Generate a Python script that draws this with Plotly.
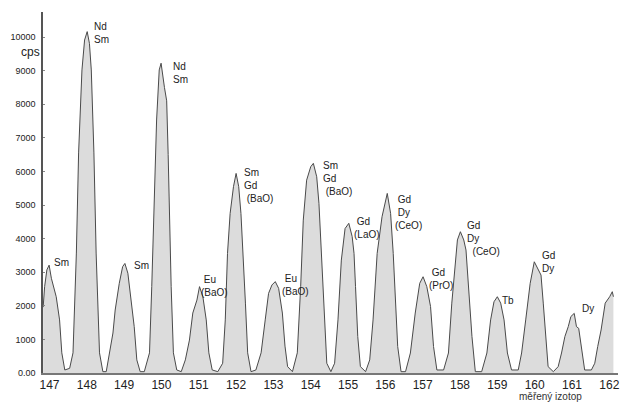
import plotly.graph_objects as go

# ---- data (mass number vs. counts per second) ----
mass = [146.83, 146.87, 146.93, 146.99, 147.05, 147.09, 147.18, 147.27, 147.33, 147.41,
        147.54, 147.63, 147.72, 147.78, 147.87, 147.94, 148.01, 148.07, 148.12, 148.19,
        148.25, 148.34, 148.43, 148.52, 148.61, 148.70, 148.76, 148.87, 148.96, 149.02,
        149.10, 149.18, 149.27, 149.34, 149.43, 149.54, 149.68, 149.74, 149.81, 149.87,
        149.94, 149.99, 150.08, 150.14, 150.18, 150.22, 150.26, 150.32, 150.41, 150.53,
        150.64, 150.75, 150.84, 150.95, 151.02, 151.11, 151.20, 151.27, 151.36, 151.51,
        151.64, 151.71, 151.77, 151.84, 151.93, 152.00, 152.07, 152.13, 152.19, 152.25,
        152.31, 152.40, 152.53, 152.67, 152.78, 152.87, 152.96, 153.05, 153.14, 153.24,
        153.31, 153.38, 153.51, 153.64, 153.73, 153.80, 153.89, 154.00, 154.07, 154.16,
        154.22, 154.28, 154.36, 154.43, 154.54, 154.64, 154.73, 154.82, 154.92, 155.02,
        155.11, 155.16, 155.20, 155.26, 155.33, 155.47, 155.58, 155.67, 155.78, 155.91,
        156.05, 156.14, 156.21, 156.27, 156.33, 156.42, 156.54, 156.67, 156.80, 156.92,
        157.01, 157.11, 157.21, 157.29, 157.38, 157.56, 157.69, 157.78, 157.87, 157.93,
        158.01, 158.10, 158.16, 158.23, 158.32, 158.41, 158.58, 158.72, 158.82, 158.91,
        159.00, 159.09, 159.18, 159.27, 159.38, 159.56, 159.65, 159.76, 159.88, 159.99,
        160.08, 160.17, 160.23, 160.29, 160.36, 160.50, 160.63, 160.72, 160.81, 160.90,
        160.97, 161.06, 161.12, 161.18, 161.25, 161.34, 161.52, 161.61, 161.69, 161.78,
        161.89, 162.01, 162.08, 162.11]
cps = [1960, 2570, 3070, 3210, 2820, 2670, 2270, 1580, 600, 90,
       140, 600, 3570, 6550, 9020, 9910, 10160, 9810, 9020, 6550,
       3570, 600, 40, 40, 600, 1190, 1875, 2670, 3165, 3260,
       2970, 2270, 1380, 390, 40, 40, 600, 2570, 5545, 7530,
       9020, 9220, 8500, 8100, 6500, 4500, 2570, 600, 90, 40,
       390, 980, 1785, 2170, 2570, 2270, 1580, 600, 90, 40,
       290, 1580, 3560, 4750, 5545, 5940, 5545, 4750, 3560, 2080,
       600, 40, 90, 600, 1580, 2370, 2620, 2720, 2520, 1785,
       800, 190, 40, 600, 2570, 4550, 5740, 6140, 6240, 5840,
       5050, 3560, 1580, 290, 40, 290, 1580, 3360, 4300, 4455,
       4060, 3560, 2570, 1085, 190, 40, 390, 1580, 3560, 4650,
       5345, 4750, 3560, 2080, 790, 40, 40, 595, 1785, 2670,
       2865, 2570, 1980, 790, 90, 90, 595, 2080, 3360, 3960,
       4205, 3960, 3660, 2570, 1085, 40, 40, 595, 1580, 2120,
       2270, 2080, 1580, 595, 90, 90, 595, 1580, 2670, 3310,
       3115, 2915, 2080, 1085, 190, 40, 190, 595, 1085, 1380,
       1680, 1775, 1380, 1330, 790, 90, 90, 290, 790, 1280,
       2080, 2270, 2420, 2270]

x_ticks = list(range(147, 163))
y_ticks = [0, 1000, 2000, 3000, 4000, 5000, 6000, 7000, 8000, 9000, 10000]
y_tick_text = ["0.00"] + [str(v) for v in y_ticks[1:]]

NB = "\u00a0"
peak_labels = ["Sm", "Nd<br>Sm", "Sm", "Nd<br>Sm", NB + "Eu<br>(BaO)",
               "Sm<br>Gd<br>" + NB + "(BaO)", NB + "Eu<br>(BaO)",
               "Sm<br>Gd<br>" + NB + "(BaO)", NB + "Gd<br>(LaO)",
               NB + "Gd<br>" + NB + "Dy<br>(CeO)", NB + "Gd<br>(PrO)",
               "Gd<br>Dy<br>" + NB + NB + "(CeO)", "Tb", "Gd<br>Dy", "Dy"]
label_mass = [147.09, 148.16, 149.23, 150.27, 151.02, 152.19, 153.21, 154.30,
              155.13, 156.23, 157.13, 158.15, 159.11, 160.18, 161.25]
label_cps = [3482, 10506, 3393, 9315, 2976, 6161, 3006, 6369,
             4702, 5357, 3185, 4583, 2351, 3690, 2113]

fig = go.Figure()
fig.add_trace(go.Scatter(
    x=mass, y=cps, mode="lines", fill="tozeroy",
    fillcolor="#dcdcdc", line=dict(color="#4a4a4a", width=1),
    hoverinfo="skip", showlegend=False))

for t, mx, cy in zip(peak_labels, label_mass, label_cps):
    fig.add_annotation(x=mx, y=cy, xref="x", yref="y", text=t, showarrow=False,
                       xanchor="left", yanchor="top", align="left",
                       font=dict(family="Liberation Sans, Arial", size=10, color="#222"),
                       borderpad=0)

fig.add_annotation(x=-0.0416, y=0.889, xref="paper", yref="paper", text="cps",
                   showarrow=False, xanchor="left", yanchor="middle",
                   font=dict(family="Liberation Sans, Arial", size=12, color="#222"))
fig.add_annotation(x=0.8267, y=-0.066, xref="paper", yref="paper", text="měřený izotop",
                   showarrow=False, xanchor="left", yanchor="middle",
                   font=dict(family="Liberation Sans, Arial", size=10, color="#333"),
                   borderpad=0)

fig.update_layout(
    width=626, height=404,
    margin=dict(l=43, r=6, t=12, b=31),
    paper_bgcolor="white", plot_bgcolor="white",
    xaxis=dict(range=[146.826, 162.233], tickvals=x_ticks, showgrid=False,
               zeroline=False, showline=True, linecolor="#777", linewidth=2,
               ticks="", tickfont=dict(family="Liberation Sans, Arial", size=12, color="#222")),
    yaxis=dict(range=[0, 10744], tickvals=y_ticks, ticktext=y_tick_text, showgrid=False,
               zeroline=False, showline=True, linecolor="#555", linewidth=1.5,
               ticks="inside", ticklen=2, tickcolor="#888", ticklabelstandoff=4,
               tickfont=dict(family="Liberation Sans, Arial", size=9, color="#222")),
)

fig.write_html("out.html", config={"displayModeBar": False},
               post_script="document.body.style.margin='0';document.body.style.padding='0';")
